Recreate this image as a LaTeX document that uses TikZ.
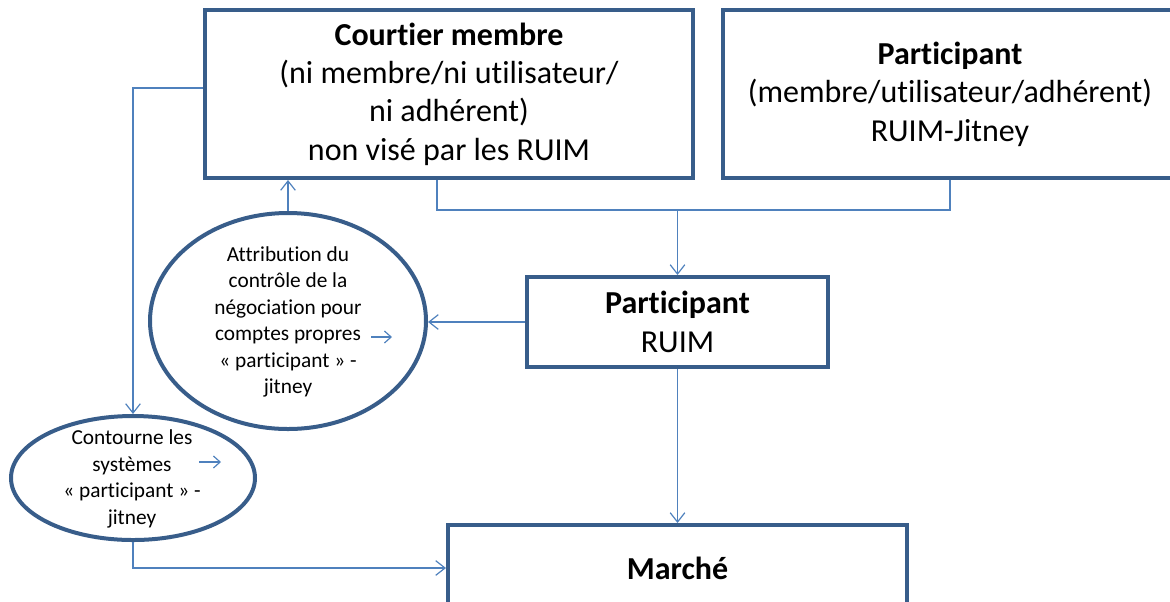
\documentclass[tikz,border=0pt]{standalone}
\usepackage{fontspec}
\setmainfont{Carlito}[Ligatures=NoCommon]
\usetikzlibrary{shapes.geometric,arrows.meta}
\definecolor{cadre}{HTML}{385D8A}
\definecolor{trait}{HTML}{4F81BD}

\begin{document}
\begin{tikzpicture}[x=0.75pt, y=-0.75pt,
  boite/.style={draw=cadre, line width=3pt, fill=white, align=center, inner sep=0pt,
    font=\fontsize{24}{28.8}\selectfont},
  bulle/.style={ellipse, draw=cadre, line width=3pt, inner sep=0pt},
  petit/.style={align=center, font=\fontsize{16}{19.8}\selectfont},
  ligne/.style={draw=trait, line width=0.9pt},
  lien/.style={ligne, -{Straight Barb[length=7pt,width=11pt]}},
  deco/.style={ligne, -{Straight Barb[length=5pt,width=9pt]}}]
  \clip (0,0) rectangle (1170,601);
  % boites
  \node[boite, minimum width=366pt, minimum height=126pt] (courtier) at (449,94)
    {\textbf{Courtier membre}\\(ni membre/ni utilisateur/\\ni adhérent)\\non visé par les RUIM};
  \node[boite, minimum width=340.5pt, minimum height=126pt] (participant) at (950,94)
    {\textbf{Participant}\\(membre/utilisateur/adhérent)\\RUIM-Jitney};
  \node[boite, minimum width=225.75pt, minimum height=67.5pt] (ruim) at (677.5,322)
    {\textbf{Participant}\\RUIM};
  \node[boite, minimum width=344.25pt, minimum height=64.5pt, anchor=north] (marche) at (677.5,523)
    {\textbf{Marché}};
  % bulles
  \node[bulle, minimum width=207pt, minimum height=162pt] (attribution) at (288,321) {};
  \node[petit] (attribtexte) at (288,322)
    {Attribution du\\contrôle de la\\négociation pour\\comptes propres\\« participant » -\\jitney};
  \node[bulle, minimum width=183pt, minimum height=93pt] (contourne) at (133,478) {};
  \node[petit] (contournetexte) at (132,479)
    {Contourne les\\systèmes\\« participant » -\\jitney};
  % petites fleches
  \coordinate (fleche1a) at (371,337);
  \coordinate (fleche1b) at (392,337);
  \coordinate (fleche2a) at (199,462);
  \coordinate (fleche2b) at (221,462);
  \draw[deco] (fleche1a) -- (fleche1b);
  \draw[deco] (fleche2a) -- (fleche2b);
  % liens
  \coordinate (jonction) at (677.5,210);
  \draw[ligne] ([xshift=-9pt]courtier.south) |- (jonction) -| (participant.south);
  \draw[lien] (jonction) -- (ruim.north);
  \draw[lien] (ruim.west) -- (ruim.west -| attribution.east);
  \draw[lien] (attribution.north) -- (attribution.north |- courtier.south);
  \draw[lien] ([yshift=4.5pt]courtier.west) -| (contourne.north);
  \draw[lien] (contourne.south) |- (marche.west);
  \draw[lien] (ruim.south) -- (marche.north);
\end{tikzpicture}
\end{document}
